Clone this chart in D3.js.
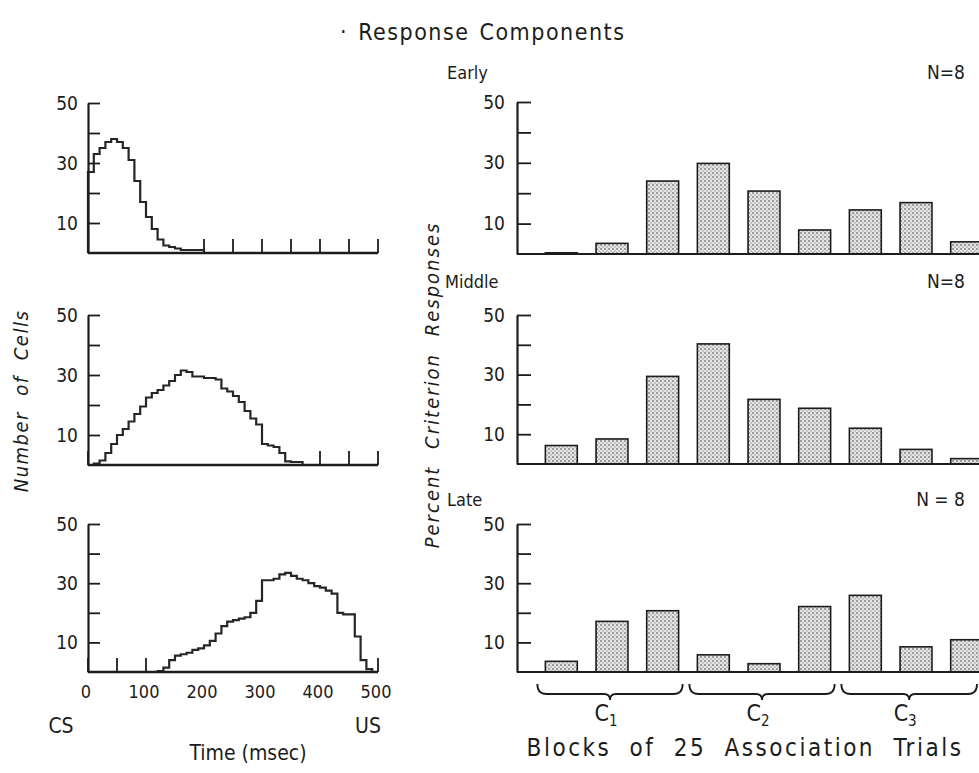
<!DOCTYPE html>
<html><head><meta charset="utf-8">
<script src="https://cdn.jsdelivr.net/npm/d3@7"></script>
<style>
body{margin:0;background:#fff;}
svg text{font-family:"DejaVu Sans Condensed","Liberation Sans Narrow","Liberation Sans",sans-serif;fill:#1c1c1c;}
</style></head><body><svg id="c" width="979" height="773"></svg>
<script>
// ---------- DATA ----------
const timeBins = [0,10,20,30,40,50,60,70,80,90,100,110,120,130,140,150,160,170,180,190,200,210,220,230,240,250,260,270,280,290,300,310,320,330,340,350,360,370,380,390,400,410,420,430,440,450,460,470,480,490];
const cellsEarly = [27,33,35,37,38,37,35,31,24,17,12,8,4.5,2.5,2,1.5,1,1,1,1,0,0,0,0,0,0,0,0,0,0,0,0,0,0,0,0,0,0,0,0,0,0,0,0,0,0,0,0,0,0];
const cellsMiddle = [0,0.5,1.5,4,7,10,12,14.5,17,19.5,22.5,24,25,26.5,28,30,31.5,31,29.5,29.5,29,29,28.5,25.5,24.5,23,21,18,15.5,13.5,7,6.5,6,4,1.2,1,1,0,0,0,0,0,0,0,0,0,0,0,0,0];
const cellsLate = [0,0,0,0,0,0,0,0,0,0,0,0,0.3,1.5,4,5.5,6,6.5,7.5,8,9,10.5,13,15.5,17,17.5,18,18.5,20,24,31,31,31.5,33,33.5,32.5,31.5,31,30,29,28.5,27.5,26.5,20,19.5,19.5,12,4,1,0];
const timeTicks = [0,50,100,150,200,250,300,350,400,450,500];
const timeLabels = [0,100,200,300,400,500];
const yTicks = [10,20,30,40,50];
const yLabels = [10,30,50];

const blocks = ["1","2","3","4","5","6","7","8","9"];
const pctEarly = [0.4,3.5,24,29.8,20.7,7.9,14.5,16.9,4.0];
const pctMiddle = [6.2,8.4,29.4,40.3,21.7,18.7,12.0,4.9,1.8];
const pctLate = [3.6,17.1,20.7,5.8,2.8,22.1,25.9,8.5,10.9];
const stages = ["C1","C2","C3"];
const stageBlocks = [["1","2","3"],["4","5","6"],["7","8","9"]];
const panelNames = ["Early","Middle","Late"];
const panelN = ["N=8","N=8","N = 8"];

// ---------- LAYOUT ----------
const svg = d3.select("#c");
const ink = "#1c1c1c";

const defs = svg.append("defs");
const pat = defs.append("pattern").attr("id","stip").attr("patternUnits","userSpaceOnUse").attr("width",4).attr("height",4);
pat.append("rect").attr("width",4).attr("height",4).attr("fill","#e4e4e4");
pat.append("circle").attr("cx",1).attr("cy",1).attr("r",0.9).attr("fill","#7a7a7a");
pat.append("circle").attr("cx",3).attr("cy",3).attr("r",0.8).attr("fill","#9c9c9c");

// Title
svg.append("text").attr("x",340).attr("y",40).attr("font-size",23).attr("letter-spacing",1.5).attr("word-spacing",2)
  .text("· Response Components");

// Left panels
const xT = d3.scaleLinear().domain([0,500]).range([88,378]);
const leftTops = [103,315,524], leftBots = [253,465,672];
const leftData = [cellsEarly, cellsMiddle, cellsLate];

leftData.forEach((vals, i) => {
  const y = d3.scaleLinear().domain([0,50]).range([leftBots[i], leftTops[i]]);
  const g = svg.append("g");
  const shown = timeTicks.filter(t => { const k = timeBins.indexOf(t); return k < 0 || vals[k] === 0; });
  g.selectAll("line.xt").data(shown).join("line")
    .attr("x1", d => xT(d)).attr("x2", d => xT(d))
    .attr("y1", y(0)).attr("y2", y(0) - 14)
    .attr("stroke", ink).attr("stroke-width", 1.8);
  const pts = [[0,0]].concat(timeBins.map((t,k) => [t, vals[k]])).concat([[500, vals[vals.length-1]]]);
  g.append("path").datum(pts)
    .attr("d", d3.area().x(d => xT(d[0])).y0(y(0)).y1(d => y(d[1])).curve(d3.curveStepAfter))
    .attr("fill", "#fff");
  g.append("path").datum(pts)
    .attr("d", d3.line().x(d => xT(d[0])).y(d => y(d[1])).curve(d3.curveStepAfter))
    .attr("fill", "none").attr("stroke", "#262626").attr("stroke-width", 2.2);
  g.append("line").attr("x1", xT(0)).attr("x2", xT(500)).attr("y1", y(0)).attr("y2", y(0))
    .attr("stroke", ink).attr("stroke-width", 2.4);
  const ax = g.append("g").attr("transform", `translate(${xT(0)},0)`)
    .call(d3.axisLeft(y).tickValues(yTicks).tickSize(-12).tickSizeOuter(0).tickPadding(10)
      .tickFormat(d => yLabels.includes(d) ? d : ""));
  ax.select(".domain").attr("stroke", ink).attr("stroke-width", 2.2);
  ax.selectAll(".tick line").attr("stroke", ink).attr("stroke-width", 1.8);
  ax.selectAll("text").attr("font-size", 19).attr("font-family", null);
});

svg.selectAll("text.tl").data(timeLabels).join("text")
  .attr("x", d => xT(d) - 2).attr("y", 698).attr("text-anchor","middle").attr("font-size",18)
  .text(d => d);
svg.append("text").attr("x",61).attr("y",733).attr("text-anchor","middle").attr("font-size",21).text("CS");
svg.append("text").attr("x",368).attr("y",733).attr("text-anchor","middle").attr("font-size",21).text("US");
svg.append("text").attr("x",248).attr("y",760).attr("text-anchor","middle").attr("font-size",21).text("Time (msec)");
svg.append("text").attr("transform","translate(28,401) rotate(-90)").attr("text-anchor","middle")
  .attr("font-size",20).attr("font-style","italic").attr("letter-spacing",1.5).attr("word-spacing",8)
  .text("Number of Cells");

// Right panels
const xB = d3.scaleBand().domain(blocks).range([536,992]).paddingInner(0.37).paddingOuter(0.185);
const rightTops = [102,315,524], rightBots = [254,464,672];
const rightData = [pctEarly, pctMiddle, pctLate];
const labelX = [447,445,447], labelY = [79,288,506];

rightData.forEach((vals, i) => {
  const y = d3.scaleLinear().domain([0,50]).range([rightBots[i], rightTops[i]]);
  const g = svg.append("g");
  g.selectAll("rect").data(vals).join("rect")
    .attr("x", (d,k) => xB(blocks[k])).attr("width", xB.bandwidth())
    .attr("y", d => y(d)).attr("height", d => y(0) - y(d))
    .attr("fill","url(#stip)").attr("stroke", ink).attr("stroke-width",1.6);
  g.append("line").attr("x1",517).attr("x2",979).attr("y1",y(0)).attr("y2",y(0))
    .attr("stroke", ink).attr("stroke-width",2.2);
  const ax = g.append("g").attr("transform","translate(517,0)")
    .call(d3.axisLeft(y).tickValues(yTicks).tickSize(-14).tickSizeOuter(0).tickPadding(12)
      .tickFormat(d => yLabels.includes(d) ? d : ""));
  ax.select(".domain").attr("stroke", ink).attr("stroke-width",2.2);
  ax.selectAll(".tick line").attr("stroke", ink).attr("stroke-width",1.8);
  ax.selectAll("text").attr("font-size",19).attr("font-family", null);
  g.append("text").attr("x",labelX[i]).attr("y",labelY[i]).attr("font-size",18).text(panelNames[i]);
  g.append("text").attr("x",965).attr("y",labelY[i]).attr("text-anchor","end").attr("font-size",19).text(panelN[i]);
});

// Braces & stage labels
const yTop = 684, yMid = 694, yTip = 700;
stageBlocks.forEach((bs, j) => {
  const x1 = xB(bs[0]) - 8, x2 = Math.min(xB(bs[bs.length-1]) + xB.bandwidth() + 4, 977);
  const xm = (x1 + x2) / 2;
  const p = d3.path();
  p.moveTo(x1, yTop); p.quadraticCurveTo(x1, yMid, x1 + 9, yMid);
  p.lineTo(xm - 6, yMid); p.quadraticCurveTo(xm, yMid, xm, yTip);
  p.quadraticCurveTo(xm, yMid, xm + 6, yMid);
  p.lineTo(x2 - 9, yMid); p.quadraticCurveTo(x2, yMid, x2, yTop);
  svg.append("path").attr("d", p.toString()).attr("fill","none").attr("stroke", ink).attr("stroke-width",1.8);
  const t = svg.append("text").attr("x", xm - 4).attr("y", 721).attr("text-anchor","middle").attr("font-size",23);
  t.append("tspan").text(stages[j][0]);
  t.append("tspan").attr("dy",5).attr("font-size",15).text(stages[j].slice(1));
});

svg.append("text").attr("x",745).attr("y",756).attr("text-anchor","middle").attr("font-size",24)
  .attr("letter-spacing",2.5).attr("word-spacing",9).text("Blocks of 25 Association Trials");
svg.append("text").attr("transform","translate(439,385) rotate(-90)").attr("text-anchor","middle")
  .attr("font-size",20).attr("font-style","italic").attr("letter-spacing",2).attr("word-spacing",9)
  .text("Percent Criterion Responses");
</script></body></html>
